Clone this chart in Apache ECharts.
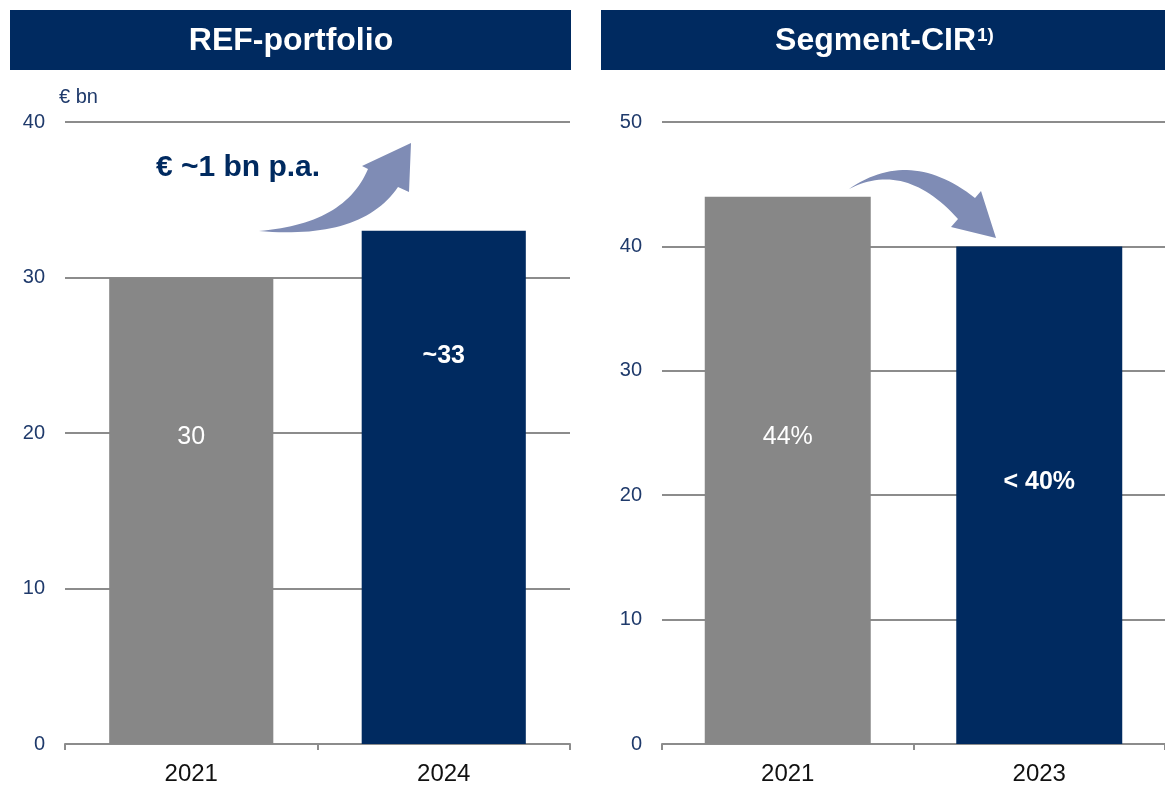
<!DOCTYPE html>
<html>
<head>
<meta charset="utf-8">
<script src="https://cdn.jsdelivr.net/npm/echarts@6/dist/echarts.min.js"></script>
<style>
  html, body { margin: 0; padding: 0; background: #fff; }
  #chart { width: 1165px; height: 786px; }
</style>
</head>
<body>
<div id="chart"></div>
<script>
// left panel: REF-portfolio
var refYears = ["2021", "2024"];
var refValues = [30, 33];
var refLabels = ["30", "~33"];
var refTicks = [0, 10, 20, 30, 40];

// right panel: Segment-CIR
var cirYears = ["2021", "2023"];
var cirValues = [44, 40];
var cirLabels = ["44%", "< 40%"];
var cirTicks = [0, 10, 20, 30, 40, 50];

var NAVY = "#002a60";
var GREY = "#878787";
var ARROW = "#7f8cb5";
var LINE = "#8c8c8c";
var FONT = "Liberation Sans, Arial, sans-serif";

var chart = echarts.init(document.getElementById("chart"));

function xAxisOf(gridIndex, cats) {
  return {
    type: "category",
    gridIndex: gridIndex,
    data: cats,
    axisLine: { lineStyle: { color: LINE, width: 2 } },
    axisTick: { show: true, length: 6, lineStyle: { color: LINE, width: 2 } },
    axisLabel: { color: "#111", fontSize: 24, fontFamily: FONT, margin: 18 },
  };
}

function yAxisOf(gridIndex, ticks, name) {
  return {
    type: "value",
    gridIndex: gridIndex,
    min: ticks[0],
    max: ticks[ticks.length - 1],
    interval: 10,
    name: name,
    nameLocation: "end",
    nameGap: 15,
    nameTextStyle: { color: "#1f3a6b", fontSize: 20, fontFamily: FONT, align: "left", padding: [0, 0, 0, -6] },
    axisLine: { show: false },
    axisTick: { show: false },
    axisLabel: { color: "#1f3a6b", fontSize: 20, fontFamily: FONT, margin: 20 },
    splitLine: { lineStyle: { color: LINE, width: 2 } },
  };
}

// label offset from bar top, per bar
var refLabelY = [160, 125];
var cirLabelY = [240, 236];

function barData(values, colors, offsets, bold) {
  return values.map(function (v, i) {
    return {
      value: v,
      itemStyle: { color: colors[i] },
      label: {
        position: ["50%", offsets[i]],
        fontWeight: bold[i] ? "bold" : "normal",
      },
    };
  });
}

function labelFmt(texts) {
  return function (p) {
    return texts[p.dataIndex];
  };
}

// arrow outline: quadratic curve, straight head, quadratic curve back
function quad(p0, c, p1, n) {
  var pts = [];
  for (var i = 0; i <= n; i++) {
    var t = i / n, u = 1 - t;
    pts.push([u * u * p0[0] + 2 * u * t * c[0] + t * t * p1[0], u * u * p0[1] + 2 * u * t * c[1] + t * t * p1[1]]);
  }
  return pts;
}

function arrowPoints(tail, c1, notch1, head, notch2, c2) {
  return quad(tail, c1, notch1, 30).concat(head, quad(notch2, c2, tail, 30));
}

var upArrow = arrowPoints([259, 231], [345, 224], [368, 169], [[362, 166], [411, 143], [409, 192]], [398, 187], [362, 240]);
var downArrow = arrowPoints([849, 189], [910, 147], [975, 198], [[981, 191], [996, 238], [951, 227]], [958, 219], [905, 160]);

chart.setOption({
  animation: false,
  grid: [
    { left: 65, right: 595, top: 122, bottom: 42 },
    { left: 662, right: 0, top: 122, bottom: 42 },
  ],
  xAxis: [xAxisOf(0, refYears), xAxisOf(1, cirYears)],
  yAxis: [yAxisOf(0, refTicks, "€ bn"), yAxisOf(1, cirTicks, "")],
  series: [
    {
      type: "bar",
      xAxisIndex: 0,
      yAxisIndex: 0,
      barWidth: "65%",
      data: barData(refValues, [GREY, NAVY], refLabelY, [false, true]),
      label: {
        show: true,
        color: "#fff",
        fontSize: 25,
        fontFamily: FONT,
        align: "center",
        verticalAlign: "middle",
        formatter: labelFmt(refLabels),
      },
    },
    {
      type: "bar",
      xAxisIndex: 1,
      yAxisIndex: 1,
      barWidth: "66%",
      data: barData(cirValues, [GREY, NAVY], cirLabelY, [false, true]),
      label: {
        show: true,
        color: "#fff",
        fontSize: 25,
        fontFamily: FONT,
        align: "center",
        verticalAlign: "middle",
        formatter: labelFmt(cirLabels),
      },
    },
  ],
  graphic: [
    // header bars
    { type: "rect", shape: { x: 10, y: 10, width: 561, height: 60 }, style: { fill: NAVY } },
    { type: "rect", shape: { x: 601, y: 10, width: 564, height: 60 }, style: { fill: NAVY } },
    {
      type: "text", x: 291, y: 41,
      style: { text: "REF-portfolio", fill: "#fff", font: "bold 32px " + FONT, align: "center", verticalAlign: "middle" },
    },
    {
      type: "text", x: 976, y: 41,
      style: { text: "Segment-CIR", fill: "#fff", font: "bold 32px " + FONT, align: "right", verticalAlign: "middle" },
    },
    {
      type: "text", x: 977, y: 36,
      style: { text: "1)", fill: "#fff", font: "bold 19px " + FONT, align: "left", verticalAlign: "middle" },
    },
    // growth note
    {
      type: "text", x: 238, y: 168,
      style: { text: "€ ~1 bn p.a.", fill: NAVY, font: "bold 30px " + FONT, align: "center", verticalAlign: "middle" },
    },
    // curved arrows
    { type: "polygon", shape: { points: upArrow }, style: { fill: ARROW } },
    { type: "polygon", shape: { points: downArrow }, style: { fill: ARROW } },
  ],
});
</script>
</body>
</html>
